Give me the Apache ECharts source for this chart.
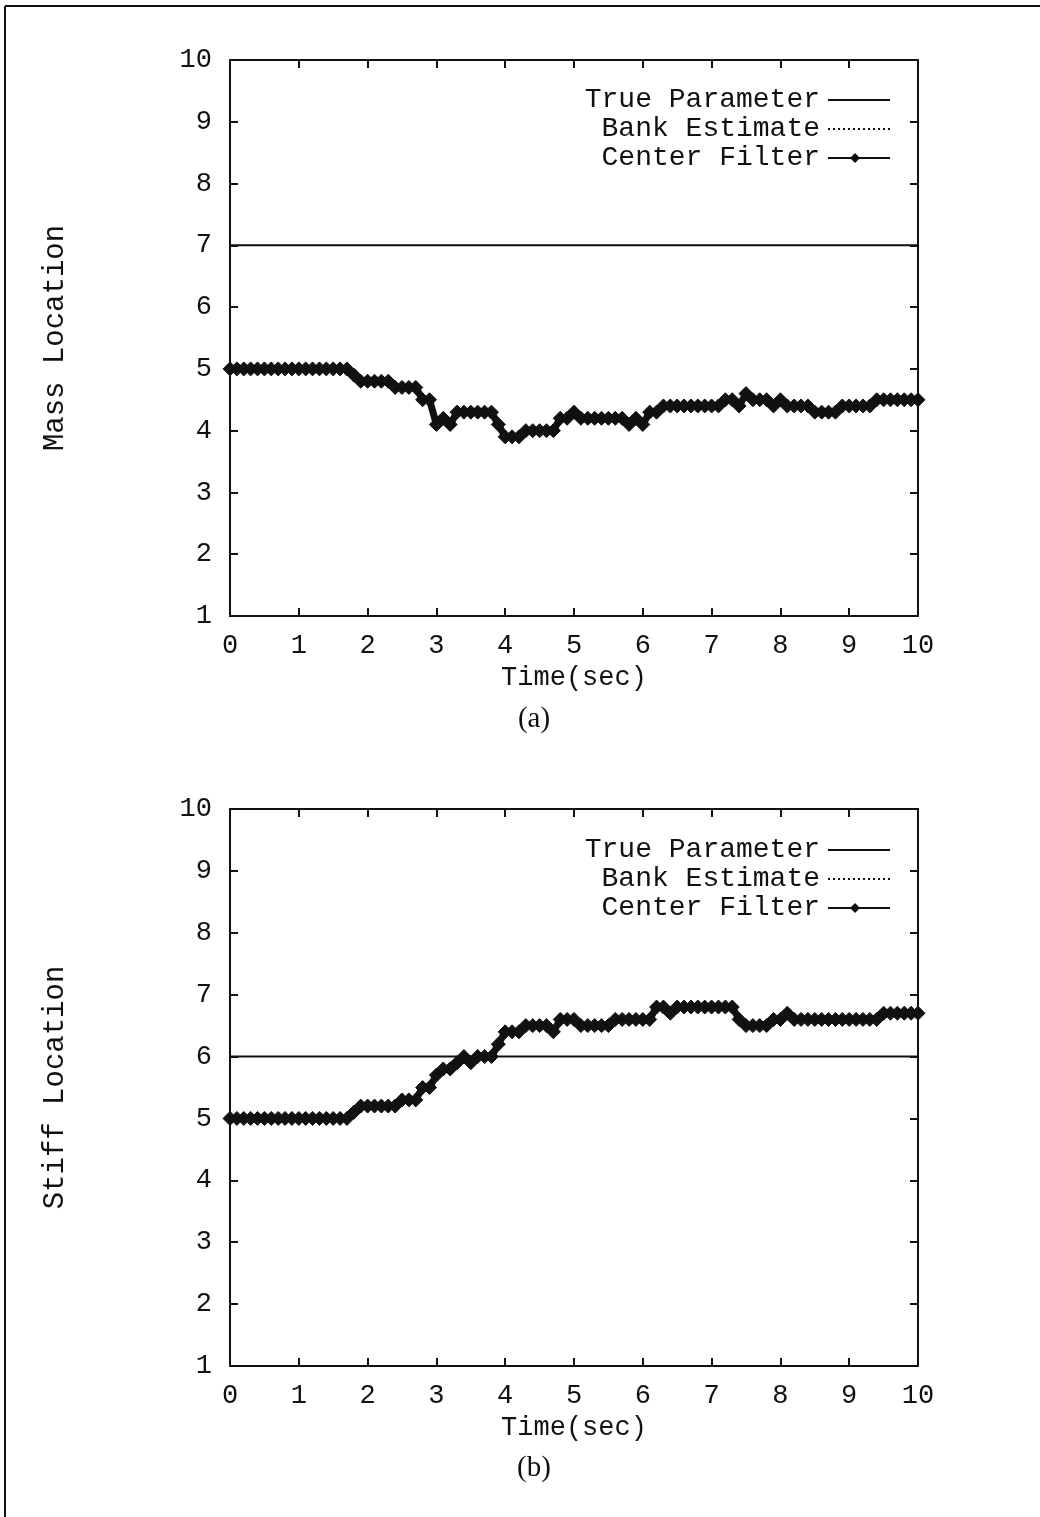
<!DOCTYPE html>
<html>
<head>
<meta charset="utf-8">
<script src="https://cdn.jsdelivr.net/npm/echarts@6/dist/echarts.min.js"></script>
<style>
  html, body { margin: 0; padding: 0; background: #fff; }
  #chart { width: 1040px; height: 1517px; }
</style>
</head>
<body>
<div id="chart"></div>
<script>
// Sample times (s), 0 to 10 in 0.1 s steps
const time = Array.from({ length: 101 }, (_, i) => +(i * 0.1).toFixed(1));

const xTicks = [0, 1, 2, 3, 4, 5, 6, 7, 8, 9, 10];
const yTicks = [1, 2, 3, 4, 5, 6, 7, 8, 9, 10];

// (a) mass location
const massTrue = 7;
const massCenter = [
  5.0, 5.0, 5.0, 5.0, 5.0, 5.0, 5.0, 5.0, 5.0, 5.0,
  5.0, 5.0, 5.0, 5.0, 5.0, 5.0, 5.0, 5.0, 4.9, 4.8,
  4.8, 4.8, 4.8, 4.8, 4.7, 4.7, 4.7, 4.7, 4.5, 4.5,
  4.1, 4.2, 4.1, 4.3, 4.3, 4.3, 4.3, 4.3, 4.3, 4.1,
  3.9, 3.9, 3.9, 4.0, 4.0, 4.0, 4.0, 4.0, 4.2, 4.2,
  4.3, 4.2, 4.2, 4.2, 4.2, 4.2, 4.2, 4.2, 4.1, 4.2,
  4.1, 4.3, 4.3, 4.4, 4.4, 4.4, 4.4, 4.4, 4.4, 4.4,
  4.4, 4.4, 4.5, 4.5, 4.4, 4.6, 4.5, 4.5, 4.5, 4.4,
  4.5, 4.4, 4.4, 4.4, 4.4, 4.3, 4.3, 4.3, 4.3, 4.4,
  4.4, 4.4, 4.4, 4.4, 4.5, 4.5, 4.5, 4.5, 4.5, 4.5,
  4.5
];
const massBank = massCenter;

// (b) stiffness location
const stiffTrue = 6;
const stiffCenter = [
  5.0, 5.0, 5.0, 5.0, 5.0, 5.0, 5.0, 5.0, 5.0, 5.0,
  5.0, 5.0, 5.0, 5.0, 5.0, 5.0, 5.0, 5.0, 5.1, 5.2,
  5.2, 5.2, 5.2, 5.2, 5.2, 5.3, 5.3, 5.3, 5.5, 5.5,
  5.7, 5.8, 5.8, 5.9, 6.0, 5.9, 6.0, 6.0, 6.0, 6.2,
  6.4, 6.4, 6.4, 6.5, 6.5, 6.5, 6.5, 6.4, 6.6, 6.6,
  6.6, 6.5, 6.5, 6.5, 6.5, 6.5, 6.6, 6.6, 6.6, 6.6,
  6.6, 6.6, 6.8, 6.8, 6.7, 6.8, 6.8, 6.8, 6.8, 6.8,
  6.8, 6.8, 6.8, 6.8, 6.6, 6.5, 6.5, 6.5, 6.5, 6.6,
  6.6, 6.7, 6.6, 6.6, 6.6, 6.6, 6.6, 6.6, 6.6, 6.6,
  6.6, 6.6, 6.6, 6.6, 6.6, 6.7, 6.7, 6.7, 6.7, 6.7,
  6.7
];
const stiffBank = stiffCenter;

const legendNames = ['True Parameter', 'Bank Estimate', 'Center Filter'];
const panelNames = ['Mass Location', 'Stiff Location'];
const captions = ['(a)', '(b)'];

const MONO = '"Liberation Mono", "DejaVu Sans Mono", monospace';
const SERIF = '"Liberation Serif", "DejaVu Serif", serif';
const INK = '#111';

const grids = [
  { left: 230, top: 60, width: 688, height: 556 },
  { left: 230, top: 809, width: 688, height: 557 }
];

function pairs(values) {
  return time.map((t, i) => [t, values[i]]);
}
function flat(v) {
  return time.map(t => [t, v]);
}

const tickStyle = { show: true, inside: true, length: 8, lineStyle: { color: INK, width: 2 } };
const lineStyleAxis = { show: true, onZero: false, lineStyle: { color: INK, width: 2 } };

const xAxes = [];
const yAxes = [];
grids.forEach((g, gi) => {
  xAxes.push({
    gridIndex: gi, type: 'value', min: 0, max: 10, interval: 1,
    position: 'bottom',
    name: 'Time(sec)', nameLocation: 'middle', nameGap: 48,
    nameTextStyle: { fontFamily: MONO, fontSize: 27, color: INK },
    axisLine: lineStyleAxis,
    axisTick: tickStyle,
    axisLabel: { fontFamily: MONO, fontSize: 27, color: INK, margin: 16 },
    splitLine: { show: false }
  });
  xAxes.push({
    gridIndex: gi, type: 'value', min: 0, max: 10, interval: 1,
    position: 'top',
    axisLine: lineStyleAxis,
    axisTick: tickStyle,
    axisLabel: { show: false },
    splitLine: { show: false }
  });
  yAxes.push({
    gridIndex: gi, type: 'value', min: 1, max: 10, interval: 1,
    position: 'left',
    name: panelNames[gi], nameLocation: 'middle', nameGap: 160, nameRotate: 90,
    nameTextStyle: { fontFamily: MONO, fontSize: 29, color: INK },
    axisLine: lineStyleAxis,
    axisTick: tickStyle,
    axisLabel: { fontFamily: MONO, fontSize: 27, color: INK, margin: 18 },
    splitLine: { show: false }
  });
  yAxes.push({
    gridIndex: gi, type: 'value', min: 1, max: 10, interval: 1,
    position: 'right',
    axisLine: lineStyleAxis,
    axisTick: tickStyle,
    axisLabel: { show: false },
    splitLine: { show: false }
  });
});

function panelSeries(gi, trueVal, bank, center) {
  const xi = gi * 2, yi = gi * 2;
  return [
    {
      name: legendNames[0], type: 'line', xAxisIndex: xi, yAxisIndex: yi,
      data: flat(trueVal), showSymbol: false, silent: true,
      lineStyle: { color: INK, width: 2 }, z: 2
    },
    {
      name: legendNames[1], type: 'line', xAxisIndex: xi, yAxisIndex: yi,
      data: pairs(bank), showSymbol: false, silent: true,
      lineStyle: { color: INK, width: 2, type: 'dotted' }, z: 3
    },
    {
      name: legendNames[2], type: 'line', xAxisIndex: xi, yAxisIndex: yi,
      data: pairs(center), symbol: 'diamond', symbolSize: 14, showAllSymbol: true,
      silent: true,
      itemStyle: { color: INK, borderColor: INK, borderWidth: 1 },
      lineStyle: { color: INK, width: 7 }, z: 4
    }
  ];
}

// Legend block drawn at the upper right of each panel
function legendGraphics(top) {
  const textRight = 820, lineL = 828, lineR = 890, gap = 29;
  const els = [];
  legendNames.forEach((name, i) => {
    const y = top + i * gap;
    els.push({
      type: 'text', x: textRight, y: y,
      style: { text: name, fontFamily: MONO, fontSize: 28, fill: INK,
               textAlign: 'right', textVerticalAlign: 'middle' }
    });
  });
  els.push({ type: 'line', shape: { x1: lineL, y1: top, x2: lineR, y2: top },
             style: { stroke: INK, lineWidth: 2 } });
  els.push({ type: 'line', shape: { x1: lineL, y1: top + gap, x2: lineR, y2: top + gap },
             style: { stroke: INK, lineWidth: 2, lineDash: [2, 3] } });
  els.push({ type: 'line', shape: { x1: lineL, y1: top + 2 * gap, x2: lineR, y2: top + 2 * gap },
             style: { stroke: INK, lineWidth: 2 } });
  els.push({ type: 'polygon',
             shape: { points: [[855, top + 2 * gap - 5], [860, top + 2 * gap], [855, top + 2 * gap + 5], [850, top + 2 * gap]] },
             style: { fill: INK } });
  return els;
}

const graphic = [
  // page frame
  { type: 'line', shape: { x1: 5, y1: 6, x2: 1040, y2: 6 }, style: { stroke: INK, lineWidth: 2 } },
  { type: 'line', shape: { x1: 5, y1: 6, x2: 5, y2: 1517 }, style: { stroke: INK, lineWidth: 2 } },
  // captions
  { type: 'text', x: 534, y: 719, style: { text: captions[0], fontFamily: SERIF, fontSize: 29, fill: INK, textAlign: 'center', textVerticalAlign: 'middle' } },
  { type: 'text', x: 534, y: 1468, style: { text: captions[1], fontFamily: SERIF, fontSize: 29, fill: INK, textAlign: 'center', textVerticalAlign: 'middle' } }
].concat(legendGraphics(100), legendGraphics(850));

const chart = echarts.init(document.getElementById('chart'), null, { renderer: 'canvas' });
chart.setOption({
  backgroundColor: '#fff',
  animation: false,
  grid: grids,
  xAxis: xAxes,
  yAxis: yAxes,
  series: [].concat(
    panelSeries(0, massTrue, massBank, massCenter),
    panelSeries(1, stiffTrue, stiffBank, stiffCenter)
  ),
  graphic: graphic
});
</script>
</body>
</html>
